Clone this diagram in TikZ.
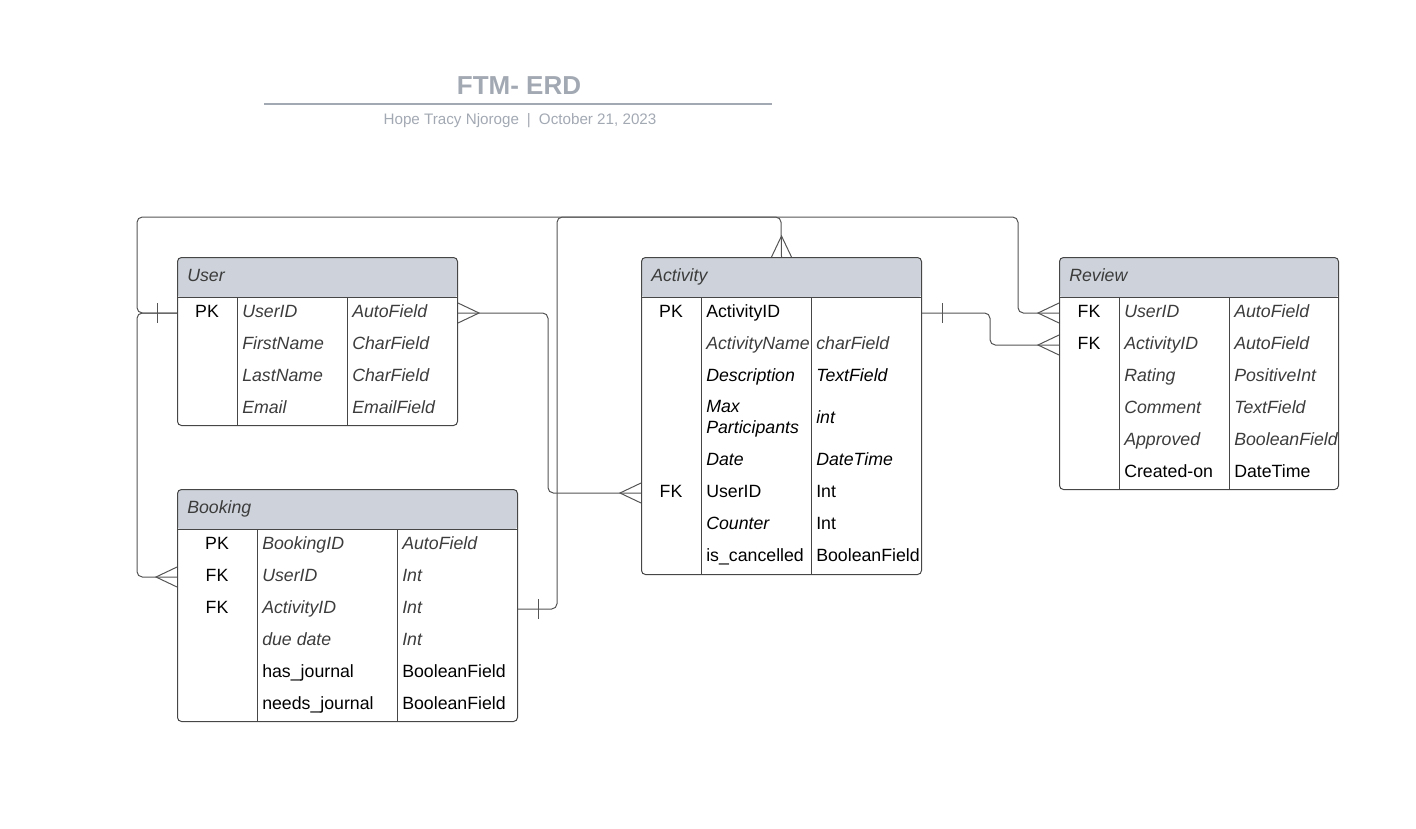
\documentclass[tikz,border=0pt]{standalone}
\usepackage{fontspec}
\setmainfont{Liberation Sans}
\definecolor{cabecera}{RGB}{206,211,219}
\definecolor{borde}{RGB}{70,70,70}
\definecolor{linea}{RGB}{85,85,85}
\definecolor{titulo}{RGB}{163,169,179}
\definecolor{gris}{RGB}{60,60,60}
\begin{document}
\begin{tikzpicture}[
        x=0.75pt, y=-0.75pt,
        font=\fontsize{13.3}{16}\selectfont,
        tabla/.style={draw=borde, line width=0.75pt, rounded corners=3pt,
            anchor=north west, inner sep=0pt,
            path picture={\fill[cabecera] (path picture bounding box.north west)
                rectangle ([yshift=-30pt]path picture bounding box.north east);}},
        celda/.style={anchor=west, inner sep=0pt, text height=9.6pt, text depth=3.1pt},
        clave/.style={inner sep=0pt, text height=9.6pt, text depth=3.1pt},
        it/.style={font=\fontsize{13.3}{16}\selectfont\itshape, text=gris},
        itn/.style={font=\fontsize{13.3}{16}\selectfont\itshape},
        con/.style={draw=linea, line width=0.75pt}
    ]
        \useasboundingbox (0,0) rectangle (1416,828);

        % Titulo
        \node[font=\bfseries\fontsize{19.5}{22}\selectfont, text=titulo] (titulo) at (519,86) {FTM- ERD};
        \draw[titulo, line width=1.4pt] (264,104) -- (772,104);
        \node[font=\fontsize{11.4}{13}\selectfont, text=titulo] (autor)
            at (520,121) {Hope Tracy Njoroge\hspace{6pt}|\hspace{6pt}October 21, 2023};

        % Tabla User
        \node[tabla, minimum width=210pt, minimum height=126pt] (user) at (177,257) {};
        \draw[borde] (177,297) -- (457,297) (237,297) -- (237,425) (347,297) -- (347,425);
        \node[celda, it] (userh) at (187,277) {User};
        \node[clave] (u1k) at (207,313) {PK};
        \node[celda, it] (u1n) at (242,313) {UserID};
        \node[celda, it] (u1t) at (352,313) {AutoField};
        \node[celda, it] (u2n) at (242,345) {FirstName};
        \node[celda, it] (u2t) at (352,345) {CharField};
        \node[celda, it] (u3n) at (242,377) {LastName};
        \node[celda, it] (u3t) at (352,377) {CharField};
        \node[celda, it] (u4n) at (242,409) {Email};
        \node[celda, it] (u4t) at (352,409) {EmailField};

        % Tabla Booking
        \node[tabla, minimum width=255pt, minimum height=174pt] (booking) at (177,489) {};
        \draw[borde] (177,529) -- (517,529) (257,529) -- (257,721) (397,529) -- (397,721);
        \node[celda, it] (bookingh) at (187,509) {Booking};
        \node[clave] (b1k) at (217,545) {PK};
        \node[celda, it] (b1n) at (262,545) {BookingID};
        \node[celda, it] (b1t) at (402,545) {AutoField};
        \node[clave] (b2k) at (217,577) {FK};
        \node[celda, it] (b2n) at (262,577) {UserID};
        \node[celda, it] (b2t) at (402,577) {Int};
        \node[clave] (b3k) at (217,609) {FK};
        \node[celda, it] (b3n) at (262,609) {ActivityID};
        \node[celda, it] (b3t) at (402,609) {Int};
        \node[celda, it] (b4n) at (262,641) {due date};
        \node[celda, it] (b4t) at (402,641) {Int};
        \node[celda] (b5n) at (262,673) {has\_journal};
        \node[celda] (b5t) at (402,673) {BooleanField};
        \node[celda] (b6n) at (262,705) {needs\_journal};
        \node[celda] (b6t) at (402,705) {BooleanField};

        % Tabla Activity
        \node[tabla, minimum width=210pt, minimum height=237.75pt] (activity) at (641,257) {};
        \draw[borde] (641,297) -- (921,297) (701,297) -- (701,574) (811,297) -- (811,574);
        \node[celda, it] (activityh) at (651,277) {Activity};
        \node[clave] (a1k) at (671,313) {PK};
        \node[celda] (a1n) at (706,313) {ActivityID};
        \node[celda, it] (a2n) at (706,345) {ActivityName};
        \node[celda, it] (a2t) at (816,345) {charField};
        \node[celda, itn] (a3n) at (706,377) {Description};
        \node[celda, itn] (a3t) at (816,377) {TextField};
        \node[anchor=west, inner sep=0pt, align=left, itn,
            font=\fontsize{13.3}{15.75}\selectfont\itshape] (a4n) at (706,419) {Max\\Participants};
        \node[celda, itn] (a4t) at (816,419) {int};
        \node[celda, itn] (a5n) at (706,461) {Date};
        \node[celda, itn] (a5t) at (816,461) {DateTime};
        \node[clave] (a6k) at (671,493) {FK};
        \node[celda] (a6n) at (706,493) {UserID};
        \node[celda] (a6t) at (816,493) {Int};
        \node[celda, itn] (a7n) at (706,525) {Counter};
        \node[celda] (a7t) at (816,525) {Int};
        \node[celda] (a8n) at (706,557) {is\_cancelled};
        \node[celda] (a8t) at (816,557) {BooleanField};

        % Tabla Review
        \node[tabla, minimum width=209.25pt, minimum height=174pt] (review) at (1059,257) {};
        \draw[borde] (1059,297) -- (1338,297) (1119,297) -- (1119,489) (1229,297) -- (1229,489);
        \node[celda, it] (reviewh) at (1069,277) {Review};
        \node[clave] (r1k) at (1089,313) {FK};
        \node[celda, it] (r1n) at (1124,313) {UserID};
        \node[celda, it] (r1t) at (1234,313) {AutoField};
        \node[clave] (r2k) at (1089,345) {FK};
        \node[celda, it] (r2n) at (1124,345) {ActivityID};
        \node[celda, it] (r2t) at (1234,345) {AutoField};
        \node[celda, it] (r3n) at (1124,377) {Rating};
        \node[celda, it] (r3t) at (1234,377) {PositiveInt};
        \node[celda, it] (r4n) at (1124,409) {Comment};
        \node[celda, it] (r4t) at (1234,409) {TextField};
        \node[celda, it] (r5n) at (1124,441) {Approved};
        \node[celda, it] (r5t) at (1234,441) {BooleanField};
        \node[celda] (r6n) at (1124,473) {Created-on};
        \node[celda] (r6t) at (1234,473) {DateTime};

        % Relaciones
        \draw[con, rounded corners=4pt]
            (user.west |- u1k) -- (137,313) |- (1018,217) |- (review.west |- r1k);
        \draw[con, rounded corners=4pt]
            (user.west |- u1k) -- (137,313) |- (booking.west |- b2k);
        \draw[con, rounded corners=4pt]
            (user.east |- u1k) -- (548,313) |- (activity.west |- a6k);
        \draw[con, rounded corners=4pt]
            (booking.east |- b3k) -- (557,609) |- (781,217) -- (activity.north);
        \draw[con, rounded corners=4pt]
            (activity.east |- a1k) -- (990,313) |- (review.west |- r2k);

        % Muchos
        \draw[con] (user.east |- u1k) ++(0,-10) -- ++(21,10) -- ++(-21,10);
        \draw[con] (activity.west |- a6k) ++(0,-10) -- ++(-21,10) -- ++(21,10);
        \draw[con] (review.west |- r1k) ++(0,-10) -- ++(-21,10) -- ++(21,10);
        \draw[con] (review.west |- r2k) ++(0,-10) -- ++(-21,10) -- ++(21,10);
        \draw[con] (booking.west |- b2k) ++(0,-10) -- ++(-21,10) -- ++(21,10);
        \draw[con] (activity.north) ++(-10,0) -- ++(10,-21) -- ++(10,21);

        % Uno
        \draw[con] (user.west |- u1k) ++(-20,-10) -- ++(0,20);
        \draw[con] (activity.east |- a1k) ++(20,-10) -- ++(0,20);
        \draw[con] (booking.east |- b3k) ++(20,-10) -- ++(0,20);

    \end{tikzpicture}
\end{document}
